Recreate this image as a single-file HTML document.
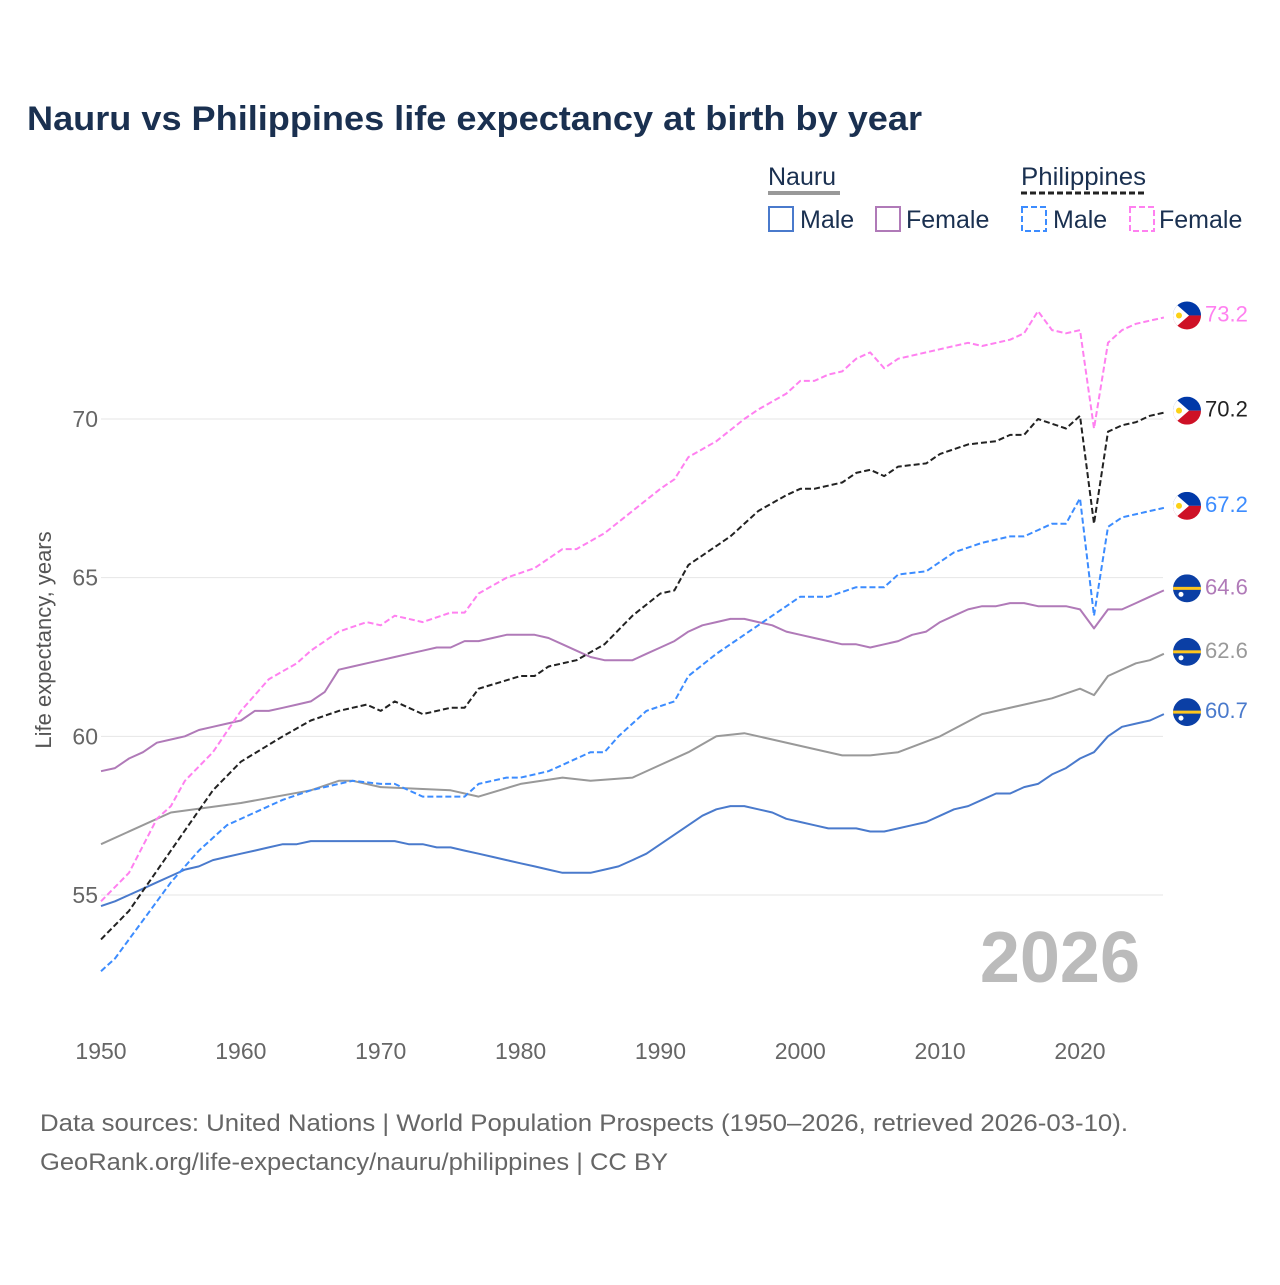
<!DOCTYPE html>
<html><head><meta charset="utf-8"><style>
body{margin:0;background:#fff;font-family:"Liberation Sans",sans-serif}
svg text{font-family:"Liberation Sans",sans-serif}
</style></head><body>
<svg id="chart" width="1280" height="1280" xmlns="http://www.w3.org/2000/svg">
<rect width="1280" height="1280" fill="#fff"/>
<text x="27" y="130" font-size="34" font-weight="bold" fill="#1a3050" textLength="895" lengthAdjust="spacingAndGlyphs">Nauru vs Philippines life expectancy at birth by year</text>
<g font-size="25" fill="#1a3050">
<text x="768" y="185" fill="#1a3050">Nauru</text>
<line x1="768" y1="193" x2="840" y2="193" stroke="#999" stroke-width="4"/>
<text x="1021" y="185" fill="#1a3050" textLength="125" lengthAdjust="spacingAndGlyphs">Philippines</text>
<line x1="1021" y1="193" x2="1146" y2="193" stroke="#222" stroke-width="3" stroke-dasharray="6,3"/>
<g><rect x="769" y="207" width="24" height="24" fill="none" stroke="#4a7acc" stroke-width="2"/><text x="800" y="228" fill="#1a3050">Male</text></g>
<g><rect x="876" y="207" width="24" height="24" fill="none" stroke="#b07ab8" stroke-width="2"/><text x="906" y="228" fill="#1a3050">Female</text></g>
<g><rect x="1022" y="207" width="24" height="24" fill="none" stroke="#3c8cff" stroke-width="2" stroke-dasharray="6,3"/><text x="1053" y="228" fill="#1a3050">Male</text></g>
<g><rect x="1130" y="207" width="24" height="24" fill="none" stroke="#ff80f0" stroke-width="2" stroke-dasharray="6,3"/><text x="1159" y="228" fill="#1a3050">Female</text></g>
</g>
<text transform="translate(51,640) rotate(-90)" text-anchor="middle" font-size="22" fill="#555">Life expectancy, years</text>
<g id="grid"></g>
<text x="1140" y="982" text-anchor="end" font-size="72" font-weight="bold" fill="#bbb">2026</text>
<g id="series"></g>
<g id="flags"></g>
<text x="40" y="1131" font-size="24" fill="#666" textLength="1088" lengthAdjust="spacingAndGlyphs">Data sources: United Nations | World Population Prospects (1950–2026, retrieved 2026-03-10).</text>
<text x="40" y="1170" font-size="24" fill="#666" textLength="628" lengthAdjust="spacingAndGlyphs">GeoRank.org/life-expectancy/nauru/philippines | CC BY</text>
</svg>
<script>
const yTicks=[55,60,65,70];
const xTicks=[1950,1960,1970,1980,1990,2000,2010,2020];
const nmYears=[1950,1951,1952,1953,1954,1955,1956,1957,1958,1959,1960,1961,1962,1963,1964,1965,1971,1972,1973,1974,1975,1976,1977,1978,1979,1980,1981,1982,1983,1984,1985,1986,1987,1988,1989,1990,1991,1992,1993,1994,1995,1996,1997,1998,1999,2000,2001,2002,2003,2004,2005,2006,2007,2008,2009,2010,2011,2012,2013,2014,2015,2016,2017,2018,2019,2020,2021,2022,2023,2024,2025,2026];
const nmVals=[54.65,54.8,55.0,55.2,55.4,55.6,55.8,55.9,56.1,56.2,56.3,56.4,56.5,56.6,56.6,56.7,56.7,56.6,56.6,56.5,56.5,56.4,56.3,56.2,56.1,56.0,55.9,55.8,55.7,55.7,55.7,55.8,55.9,56.1,56.3,56.6,56.9,57.2,57.5,57.7,57.8,57.8,57.7,57.6,57.4,57.3,57.2,57.1,57.1,57.1,57.0,57.0,57.1,57.2,57.3,57.5,57.7,57.8,58.0,58.2,58.2,58.4,58.5,58.8,59.0,59.3,59.5,60.0,60.3,60.4,60.5,60.7];
const nfYears=[1950,1951,1952,1953,1954,1955,1956,1957,1958,1959,1960,1961,1962,1963,1964,1965,1966,1967,1968,1969,1970,1971,1972,1973,1974,1975,1976,1977,1978,1979,1980,1981,1982,1983,1984,1985,1986,1987,1988,1989,1990,1991,1992,1993,1994,1995,1996,1997,1998,1999,2000,2001,2002,2003,2004,2005,2006,2007,2008,2009,2010,2011,2012,2013,2014,2015,2016,2017,2018,2019,2020,2021,2022,2023,2024,2025,2026];
const nfVals=[58.9,59.0,59.3,59.5,59.8,59.9,60.0,60.2,60.3,60.4,60.5,60.8,60.8,60.9,61.0,61.1,61.4,62.1,62.2,62.3,62.4,62.5,62.6,62.7,62.8,62.8,63.0,63.0,63.1,63.2,63.2,63.2,63.1,62.9,62.7,62.5,62.4,62.4,62.4,62.6,62.8,63.0,63.3,63.5,63.6,63.7,63.7,63.6,63.5,63.3,63.2,63.1,63.0,62.9,62.9,62.8,62.9,63.0,63.2,63.3,63.6,63.8,64.0,64.1,64.1,64.2,64.2,64.1,64.1,64.1,64.0,63.4,64.0,64.0,64.2,64.4,64.6];
const ntYears=[1950,1955,1960,1965,1967,1968,1970,1975,1977,1980,1983,1985,1988,1990,1992,1994,1996,1998,2000,2003,2005,2007,2010,2013,2018,2020,2021,2022,2024,2025,2026];
const ntVals=[56.6,57.6,57.9,58.3,58.6,58.6,58.4,58.3,58.1,58.5,58.7,58.6,58.7,59.1,59.5,60.0,60.1,59.9,59.7,59.4,59.4,59.5,60.0,60.7,61.2,61.5,61.3,61.9,62.3,62.4,62.6];
const ptYears=[1950,1952,1955,1958,1960,1963,1965,1967,1969,1970,1971,1973,1975,1976,1977,1980,1981,1982,1984,1986,1988,1990,1991,1992,1995,1997,1999,2000,2001,2003,2004,2005,2006,2007,2009,2010,2012,2014,2015,2016,2017,2019,2020,2021,2022,2023,2024,2025,2026];
const ptVals=[53.6,54.5,56.4,58.3,59.2,60.0,60.5,60.8,61.0,60.8,61.1,60.7,60.9,60.9,61.5,61.9,61.9,62.2,62.4,62.9,63.8,64.5,64.6,65.4,66.3,67.1,67.6,67.8,67.8,68.0,68.3,68.4,68.2,68.5,68.6,68.9,69.2,69.3,69.5,69.5,70.0,69.7,70.1,66.7,69.6,69.8,69.9,70.1,70.2];
const pmYears=[1950,1951,1952,1955,1957,1959,1961,1963,1965,1967,1968,1970,1971,1972,1973,1974,1976,1977,1979,1980,1982,1983,1985,1986,1987,1989,1991,1992,1994,1996,1998,2000,2002,2004,2006,2007,2009,2011,2013,2015,2016,2017,2018,2019,2020,2021,2022,2023,2025,2026];
const pmVals=[52.6,53.0,53.6,55.4,56.4,57.2,57.6,58.0,58.3,58.5,58.6,58.5,58.5,58.3,58.1,58.1,58.1,58.5,58.7,58.7,58.9,59.1,59.5,59.5,60.0,60.8,61.1,61.9,62.6,63.2,63.8,64.4,64.4,64.7,64.7,65.1,65.2,65.8,66.1,66.3,66.3,66.5,66.7,66.7,67.5,63.8,66.6,66.9,67.1,67.2];
const pfYears=[1950,1952,1954,1955,1956,1958,1960,1962,1964,1965,1967,1969,1970,1971,1973,1975,1976,1977,1979,1981,1983,1984,1986,1988,1990,1991,1992,1994,1996,1997,1999,2000,2001,2002,2003,2004,2005,2006,2007,2010,2012,2013,2015,2016,2017,2018,2019,2020,2021,2022,2023,2024,2026];
const pfVals=[54.8,55.7,57.4,57.8,58.6,59.5,60.8,61.8,62.3,62.7,63.3,63.6,63.5,63.8,63.6,63.9,63.9,64.5,65.0,65.3,65.9,65.9,66.4,67.1,67.8,68.1,68.8,69.3,70.0,70.3,70.8,71.2,71.2,71.4,71.5,71.9,72.1,71.6,71.9,72.2,72.4,72.3,72.5,72.7,73.4,72.8,72.7,72.8,69.7,72.4,72.8,73.0,73.2];

const X=y=>101+(y-1950)*(1080-101)/70;
const Y=v=>419+(70-v)*(895-419)/15;
const NS="http://www.w3.org/2000/svg";
function mk(tag,attrs,parent){const e=document.createElementNS(NS,tag);for(const k in attrs)e.setAttribute(k,attrs[k]);parent.appendChild(e);return e;}
const grid=document.getElementById('grid');
yTicks.forEach(t=>{
  const l=mk('line',{x1:101,x2:1163,y1:Y(t),y2:Y(t),stroke:'#e6e6e6','stroke-width':1},grid);
  
  
  const tx=mk('text',{x:98,y:Y(t)+8,'text-anchor':'end','font-size':23,fill:'#666'},grid);
  tx.textContent=t;
  
  
});
xTicks.forEach(t=>{
  const tx=mk('text',{x:X(t),y:1059,'text-anchor':'middle','font-size':23,fill:'#666'},grid);
  tx.textContent=t;
  
  
});
const sg=document.getElementById('series');
const fg=document.getElementById('flags');
function draw(name,ys,vs,color,dash,flag){
  const d=ys.map((y,i)=>(i?'L':'M')+X(y).toFixed(1)+','+Y(vs[i]).toFixed(1)).join('');
  const p=mk('path',{d:d,fill:'none',stroke:color,'stroke-width':2,'stroke-dasharray':dash||'none','stroke-linejoin':'round'},sg);
  
  
  const lv=vs[vs.length-1];
  const cx=1187,cy=Y(lv)-2;
  const g=mk('g',{},fg);
  
  
  const id='c'+name;
  const cp=mk('clipPath',{id:id},g);mk('circle',{cx:cx,cy:cy,r:14},cp);
  const inner=mk('g',{'clip-path':'url(#'+id+')'},g);
  if(flag==='ph'){
    mk('rect',{x:cx-14,y:cy-14,width:28,height:14,fill:'#0038a8'},inner);
    mk('rect',{x:cx-14,y:cy,width:28,height:14,fill:'#ce1126'},inner);
    mk('polygon',{points:`${cx-14},${cy-14} ${cx+2},${cy} ${cx-14},${cy+14}`,fill:'#fff'},inner);
    mk('circle',{cx:cx-8,cy:cy,r:3,fill:'#fcd116'},inner);
  } else {
    mk('rect',{x:cx-14,y:cy-14,width:28,height:28,fill:'#0b3fa5'},inner);
    mk('rect',{x:cx-14,y:cy-1.5,width:28,height:3,fill:'#ffc61e'},inner);
    mk('circle',{cx:cx-6,cy:cy+6,r:2.5,fill:'#fff'},inner);
  }
  const t=mk('text',{x:1205,y:cy+6,'font-size':22,fill:color},fg);
  t.textContent=lv.toFixed(1);
  
  
}
draw('nauru-total',ntYears,ntVals,'#999','', 'nr');
draw('nauru-male',nmYears,nmVals,'#4a7acc','', 'nr');
draw('nauru-female',nfYears,nfVals,'#b07ab8','', 'nr');
draw('philippines-male',pmYears,pmVals,'#3c8cff','6,3','ph');
draw('philippines-female',pfYears,pfVals,'#ff80f0','6,3','ph');
draw('philippines-total',ptYears,ptVals,'#222','6,3','ph');
</script>
</body></html>
